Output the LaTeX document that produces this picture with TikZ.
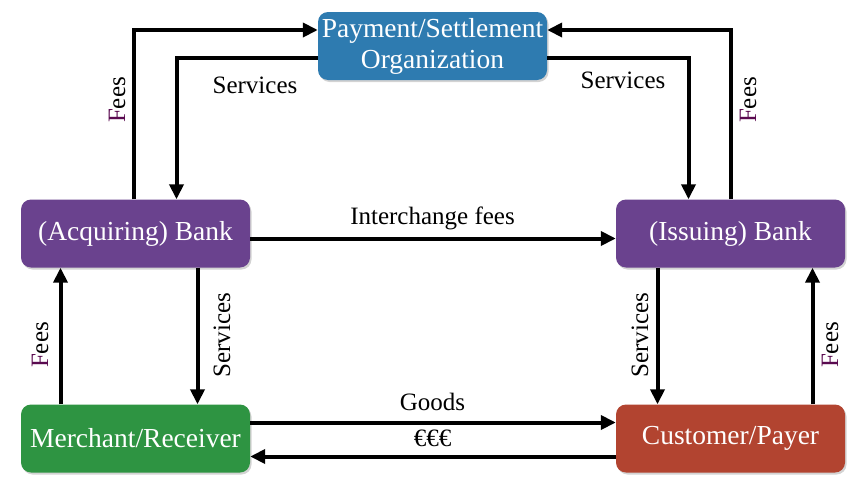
\documentclass[tikz,border=0pt]{standalone}
\usepackage{fontspec}
\setmainfont{Liberation Serif}
\usetikzlibrary{arrows.meta,shadows,calc}
\definecolor{payblue}{RGB}{46,123,176}
\definecolor{bankpurple}{RGB}{106,66,142}
\definecolor{mgreen}{RGB}{46,148,66}
\definecolor{cred}{RGB}{178,68,48}
\definecolor{feesF}{RGB}{90,10,80}
\tikzset{
  box/.style={rectangle, rounded corners=10pt, minimum width=229pt, minimum height=68pt,
    text=white, align=center, font=\fontsize{27.5}{31}\selectfont,
    drop shadow={opacity=0.35, shadow xshift=1.5pt, shadow yshift=-2pt}},
  conn/.style={line width=4pt, -{Triangle[length=15pt,width=14pt]}},
  lbl/.style={font=\fontsize{25}{28}\selectfont, text=black, inner sep=0pt},
}
\newcommand{\fees}{\textcolor{feesF}{F}ees}
\begin{document}
\begin{tikzpicture}[x=1pt,y=-1pt]
\useasboundingbox (0,0) rectangle (863,485);
\node[box, fill=payblue] (pay) at (432.5,46) {Payment/Settlement\\Organization};
\node[box, fill=bankpurple] (acq) at (135.5,233.5) {(Acquiring) Bank};
\node[box, fill=bankpurple] (iss) at (730.5,233.5) {(Issuing) Bank};
\node[box, fill=mgreen] (mer) at (135.5,438.5) {Merchant/Receiver};
\node[box, fill=cred] (cus) at (730.5,438.5) {Customer/Payer};

% top left
\draw[conn] ([xshift=-2pt]acq.north) |- ([yshift=16pt]pay.west);
\draw[conn] ([yshift=-12pt]pay.west) -| ([xshift=41pt]acq.north);
% top right
\draw[conn] (iss.north) |- ([yshift=16pt]pay.east);
\draw[conn] ([yshift=-12pt]pay.east) -| ([xshift=-42pt]iss.north);
% interchange
\draw[conn] ([yshift=-5pt]acq.east) -- ([yshift=-5pt]iss.west);
% verticals bottom
\draw[conn] ([xshift=62pt]acq.south) -- ([xshift=62pt]mer.north);
\draw[conn] ([xshift=-75pt]mer.north) -- ([xshift=-75pt]acq.south);
\draw[conn] ([xshift=-73pt]iss.south) -- ([xshift=-73pt]cus.north);
\draw[conn] ([xshift=82pt]cus.north) -- ([xshift=82pt]iss.south);
% goods / money
\draw[conn] ([yshift=16pt]mer.east) -- ([yshift=16pt]cus.west);
\draw[conn] ([yshift=-18pt]cus.west) -- ([yshift=-18pt]mer.east);

% labels
\node[lbl] (l1) at (255,85) {Services};
\node[lbl] (l2) at (623,80) {Services};
\node[lbl, rotate=90] (l3) at (117,100) {\fees};
\node[lbl, rotate=90] (l4) at (748,100) {\fees};
\node[lbl] (l5) at (432.5,218) {Interchange fees};
\node[lbl, rotate=90] (l6) at (222,335) {Services};
\node[lbl, rotate=90] (l7) at (640,335) {Services};
\node[lbl, rotate=90] (l8) at (40,345) {\fees};
\node[lbl, rotate=90] (l9) at (830,345) {\fees};
\node[lbl] (l10) at (432.5,402) {Goods};
\node[lbl] (l11) at (432.5,438) {€€€};
\end{tikzpicture}
\end{document}
